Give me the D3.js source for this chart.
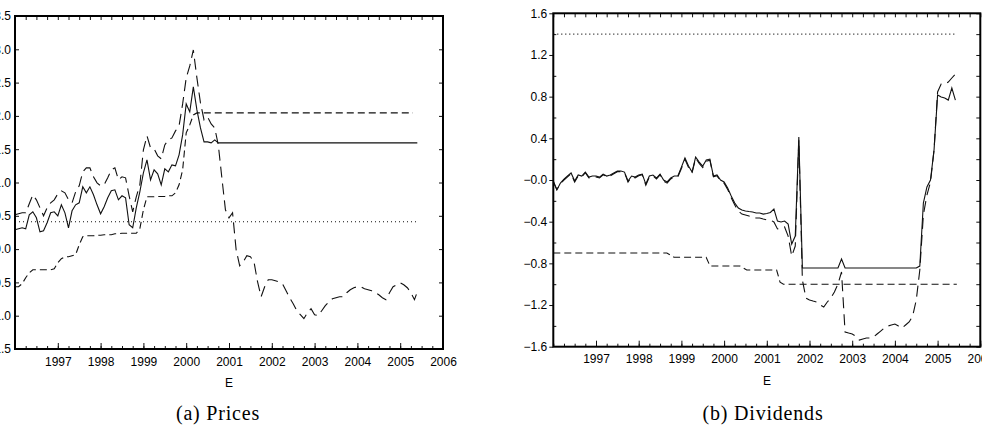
<!DOCTYPE html>
<html>
<head>
<meta charset="utf-8">
<script src="https://cdn.jsdelivr.net/npm/d3@7"></script>
<style>
  body { margin: 0; background: #fff; }
  svg { display: block; }
  .tick text { font-family: "Liberation Sans", Arial, sans-serif; font-size: 12px; fill: #000; }
  .axis-title { font-family: "Liberation Sans", Arial, sans-serif; font-size: 12px; }
  .caption { font-family: "Liberation Serif", "Times New Roman", serif; font-size: 20px; letter-spacing: 0.8px; }
</style>
</head>
<body>
<script>
// monthly series, first value = Jan 1996
const startYear = 1996

const yearTicks = [1997, 1998, 1999, 2000, 2001, 2002, 2003, 2004, 2005, 2006]
const yearLabels = ['1997', '1998', '1999', '2000', '2001', '2002', '2003', '2004', '2005', '2006']

// (a) Prices
const priceTicks = [3.5, 3.0, 2.5, 2.0, 1.5, 1.0, 0.5, 0.0, -0.5, -1.0, -1.5]
const priceTickLabels = ['3.5', '3.0', '2.5', '2.0', '1.5', '1.0', '0.5', '0.0', '\u22120.5', '\u22121.0', '\u22121.5']

const priceEstimate = [0.29, 0.305, 0.32, 0.305, 0.515, 0.56, 0.47, 0.26, 0.275, 0.395, 0.545, 0.56,
	0.50, 0.665, 0.545, 0.32, 0.575, 0.665, 0.695, 0.935, 0.845, 0.935, 0.815, 0.665,
	0.53, 0.635, 0.77, 0.875, 0.89, 0.74, 0.80, 0.77, 0.365, 0.32, 0.62, 0.86,
	1.145, 1.34, 1.04, 1.19, 1.13, 0.965, 1.205, 1.16, 1.265, 1.25, 1.415, 1.715,
	2.18, 2.06, 2.435, 2.09, 1.82, 1.61, 1.61, 1.595, 1.64, 1.595]
const priceEstimateEnd = 2005.4

const priceActual = [0.515, 0.53, 0.545, 0.545, 0.68, 0.815, 0.74, 0.62, 0.50, 0.62, 0.695, 0.74,
	0.83, 0.875, 0.845, 0.74, 0.695, 0.86, 0.95, 1.16, 1.22, 1.22, 1.085, 0.995,
	0.95, 0.965, 1.07, 1.19, 1.22, 1.04, 1.085, 1.07, 0.80, 0.56, 0.785, 0.965,
	1.49, 1.70, 1.52, 1.505, 1.40, 1.355, 1.565, 1.64, 1.67, 1.775, 1.85, 2.18,
	2.57, 2.75, 2.99, 2.57, 2.195, 1.94, 1.985, 1.88, 1.82, 1.565, 1.07, 0.59,
	0.47, 0.545, -0.01, -0.25, -0.19, -0.10, -0.115, -0.19, -0.49, -0.715, -0.565, -0.46,
	-0.46, -0.475, -0.49, -0.52, -0.625, -0.73, -0.82, -0.925, -0.985, -1.045, -0.955, -0.895,
	-0.985, -1.0, -0.925, -0.85, -0.79, -0.745, -0.73, -0.715, -0.715, -0.655, -0.61, -0.58,
	-0.565, -0.565, -0.595, -0.61, -0.625, -0.655, -0.685, -0.73, -0.76, -0.655, -0.565, -0.535,
	-0.505, -0.535, -0.58, -0.655, -0.76, -0.61]

const priceLower = [-0.565, -0.565, -0.52, -0.43, -0.355, -0.31, -0.31, -0.31, -0.31, -0.31, -0.31, -0.295,
	-0.205, -0.145, -0.115, -0.115, -0.10, -0.085, 0.065, 0.185, 0.20, 0.20, 0.20, 0.2075,
	0.2075, 0.215, 0.215, 0.215, 0.23, 0.23, 0.2375, 0.2375, 0.2375, 0.2375, 0.2375, 0.305,
	0.59, 0.785, 0.785, 0.785, 0.79, 0.79, 0.79, 0.80, 0.80, 0.845, 0.965, 1.19,
	1.745, 1.865, 2.015, 2.045]
const priceLowerEnd = 2005.3

const priceLevel = 0.41
const priceLevelEnd = 2005.42

// (b) Dividends
const divTicks = [1.6, 1.2, 0.8, 0.4, 0.0, -0.4, -0.8, -1.2, -1.6]
const divTickLabels = ['1.6', '1.2', '0.8', '0.4', '\u22120.0', '\u22120.4', '\u22120.8', '\u22121.2', '\u22121.6']
const divMinorTicks = [1.4, 1.0, 0.6, 0.2, -0.2, -0.6, -1.0, -1.4]

const divEstimate = [-0.01, -0.096, -0.029, 0.009, 0.038, 0.067, -0.01, 0.048, 0.038, 0.076, 0.028, 0.038,
	0.038, 0.028, 0.057, 0.038, 0.048, 0.067, 0.086, 0.086, 0.076, -0.01, 0.038, 0.028,
	0.048, 0.057, -0.039, 0.038, 0.048, 0.019, 0.057, 0.0, -0.019, 0.019, 0.038, 0.038,
	0.124, 0.211, 0.134, 0.076, 0.220, 0.172, 0.134, 0.192, 0.201, 0.038, 0.048, 0.0,
	-0.019, -0.077, -0.154, -0.221, -0.269, -0.288, -0.298, -0.303, -0.307, -0.317, -0.317, -0.327,
	-0.322, -0.312, -0.279, -0.394, -0.403, -0.394, -0.423, -0.615, -0.538, 0.412, -0.845, -0.845,
	-0.845, -0.845, -0.845, -0.845, -0.845, -0.845, -0.845, -0.845, -0.845, -0.759, -0.845, -0.845,
	-0.845, -0.845, -0.845, -0.845, -0.845, -0.845, -0.845, -0.845, -0.845, -0.845, -0.845, -0.845,
	-0.845, -0.845, -0.845, -0.845, -0.845, -0.845, -0.845, -0.826, -0.221, -0.067, 0.0, 0.288,
	0.816, 0.796, 0.787, 0.767, 0.883, 0.767]

const divActual = [-0.02, -0.09, -0.04, 0.0, 0.03, 0.06, -0.02, 0.04, 0.03, 0.07, 0.02, 0.03,
	0.03, 0.02, 0.05, 0.03, 0.04, 0.06, 0.08, 0.08, 0.07, -0.02, 0.03, 0.02,
	0.04, 0.05, -0.05, 0.03, 0.04, 0.01, 0.05, -0.01, -0.03, 0.01, 0.03, 0.03,
	0.11, 0.20, 0.12, 0.07, 0.21, 0.16, 0.12, 0.18, 0.19, 0.03, 0.04, -0.01,
	-0.03, -0.09, -0.17, -0.240, -0.298, -0.327, -0.336, -0.346, -0.356, -0.365, -0.365, -0.375,
	-0.384, -0.384, -0.403, -0.470, -0.461, -0.451, -0.538, -0.730, -0.634, 0.384, -0.960, -1.133,
	-1.152, -1.162, -1.171, -1.200, -1.219, -1.171, -1.133, -1.075, -0.998, -0.883, -1.459, -1.469,
	-1.478, -1.498, -1.536, -1.526, -1.517, -1.517, -1.507, -1.478, -1.450, -1.421, -1.402, -1.392,
	-1.383, -1.402, -1.421, -1.392, -1.363, -1.306, -1.152, -0.864, -0.336, -0.144, -0.020, 0.288,
	0.845, 0.921, 0.921, 0.940, 0.979, 1.017]

// step-like lower bound as [year, value]
const divLower = [[1996, -0.70], [1998.66, -0.70], [1998.83, -0.742], [1999.58, -0.742], [1999.67, -0.826],
	[2000.37, -0.826], [2000.53, -0.864], [2001.23, -0.864], [2001.31, -0.98], [2001.39, -1.0], [2005.45, -1.0]]

const divLevel = 1.4
const divLevelEnd = 2005.45

const monthly = values => values.map((v, i) => [startYear + i / 12, v])
const hold = (values, end) => monthly(values).concat([[end, values[values.length - 1]]])
const flat = (v, end) => [[startYear, v], [end, v]]

const panels = [
	{
		left: 15, right: 443, top: 16, bottom: 349,
		yDomain: [-1.5, 3.5], yTicks: priceTicks, yLabels: priceTickLabels, yMinor: [],
		leftTickSize: -4, leftPadding: 4,
		titleX: 229, titleY: 387, caption: '(a) Prices', captionX: 218, captionY: 420,
		series: [
			{ points: flat(priceLevel, priceLevelEnd), dash: '1,3' },
			{ points: hold(priceLower, priceLowerEnd), dash: '7,4' },
			{ points: monthly(priceActual), dash: '11,6' },
			{ points: hold(priceEstimate, priceEstimateEnd), dash: null }
		]
	},
	{
		left: 553.3, right: 980.3, top: 13.3, bottom: 346.7,
		yDomain: [-1.6, 1.6], yTicks: divTicks, yLabels: divTickLabels, yMinor: divMinorTicks,
		leftTickSize: 4, leftPadding: 2,
		titleX: 767, titleY: 385, caption: '(b) Dividends', captionX: 763, captionY: 420,
		series: [
			{ points: flat(divLevel, divLevelEnd), dash: '1,3' },
			{ points: divLower, dash: '7,4' },
			{ points: monthly(divActual), dash: '11,6' },
			{ points: monthly(divEstimate), dash: null }
		]
	}
]

const svg = d3.select('body').append('svg')
	.attr('width', 982)
	.attr('height', 440)

const quarterTicks = d3.range(1996, 2006.001, 0.25)

panels.forEach(p => {
	const x = d3.scaleLinear().domain([1996, 2006]).range([p.left, p.right])
	const y = d3.scaleLinear().domain(p.yDomain).range([p.bottom, p.top])
	const g = svg.append('g')

	const line = d3.line()
		.x(d => x(d[0]))
		.y(d => y(d[1]))

	g.append('g').selectAll('path')
		.data(p.series)
		.enter()
		.append('path')
		.attr('d', s => line(s.points))
		.attr('fill', 'none')
		.attr('stroke', '#111')
		.attr('stroke-width', 1.1)
		.attr('stroke-dasharray', s => s.dash)

	// bottom: minor quarter ticks and labelled years, pointing inward
	g.append('g')
		.attr('transform', `translate(0,${p.bottom})`)
		.call(d3.axisBottom(x).tickValues(quarterTicks).tickSize(-3).tickSizeOuter(0).tickFormat(''))
	g.append('g')
		.attr('transform', `translate(0,${p.bottom})`)
		.call(d3.axisBottom(x).tickValues(yearTicks).tickSize(-6).tickSizeOuter(0).tickPadding(8)
			.tickFormat((d, i) => yearLabels[i]))

	g.append('g')
		.attr('transform', `translate(0,${p.top})`)
		.call(d3.axisTop(x).tickValues(quarterTicks).tickSize(-4).tickSizeOuter(0).tickFormat(''))

	g.append('g')
		.attr('transform', `translate(${p.left},0)`)
		.call(d3.axisLeft(y).tickValues(p.yTicks).tickSize(p.leftTickSize).tickSizeOuter(0)
			.tickPadding(p.leftPadding)
			.tickFormat((d, i) => p.yLabels[i]))
	if (p.yMinor.length) {
		g.append('g')
			.attr('transform', `translate(${p.left},0)`)
			.call(d3.axisLeft(y).tickValues(p.yMinor).tickSize(-3).tickSizeOuter(0).tickFormat(''))
	}

	g.append('g')
		.attr('transform', `translate(${p.right},0)`)
		.call(d3.axisRight(y).tickValues(p.yTicks.concat(p.yMinor)).tickSize(-4).tickSizeOuter(0).tickFormat(''))

	g.selectAll('.domain').remove()
	g.selectAll('.tick line').attr('stroke', '#111')

	g.append('rect')
		.attr('x', p.left)
		.attr('y', p.top)
		.attr('width', p.right - p.left)
		.attr('height', p.bottom - p.top)
		.attr('fill', 'none')
		.attr('stroke', '#000')
		.attr('stroke-width', 2)

	g.append('text')
		.attr('class', 'axis-title')
		.attr('x', p.titleX)
		.attr('y', p.titleY)
		.attr('text-anchor', 'middle')
		.text('E')

	g.append('text')
		.attr('class', 'caption')
		.attr('x', p.captionX)
		.attr('y', p.captionY)
		.attr('text-anchor', 'middle')
		.text(p.caption)
})
</script>
</body>
</html>
